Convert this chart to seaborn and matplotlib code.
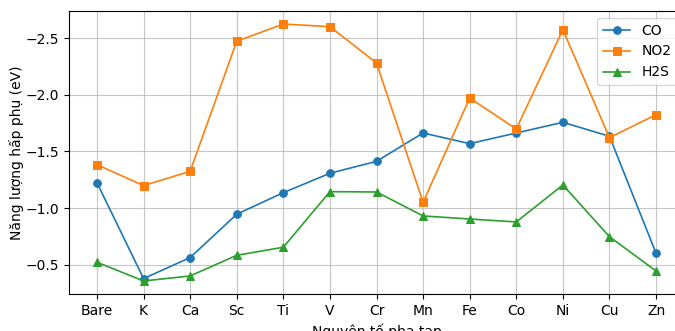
import matplotlib
matplotlib.use('Agg')
import matplotlib.pyplot as plt
import seaborn as sns
import pandas as pd

# dữ liệu
elements = ['Bare', 'K', 'Ca', 'Sc', 'Ti', 'V', 'Cr', 'Mn', 'Fe', 'Co', 'Ni', 'Cu', 'Zn']
co = [-1.225, -0.38, -0.565, -0.947, -1.137, -1.308, -1.413, -1.663, -1.569, -1.663, -1.757, -1.634, -0.603]
no2 = [-1.384, -1.199, -1.325, -2.471, -2.623, -2.600, -2.280, -1.052, -1.971, -1.698, -2.573, -1.622, -1.824]
h2s = [-0.524, -0.359, -0.403, -0.585, -0.656, -1.146, -1.143, -0.932, -0.905, -0.879, -1.205, -0.749, -0.447]

series = {'CO': (co, 'o'), 'NO2': (no2, 's'), 'H2S': (h2s, '^')}
colors = ['#1f77b4', '#ff7f0e', '#2ca02c']

plt.rcParams['font.family'] = ['DejaVu Sans']
fig = plt.figure(figsize=(6.75, 3.31), dpi=100)
ax = fig.add_axes([69 / 675, 1 - 294 / 331, (684 - 69) / 675, (294 - 11) / 331])

x = list(range(len(elements)))
for (name, (vals, mk)), c in zip(series.items(), colors):
    df = pd.DataFrame({'x': x, 'y': vals})
    sns.lineplot(data=df, x='x', y='y', marker=mk, color=c, label=name,
                 markersize=5.5, markeredgecolor=c, linewidth=1.2, ax=ax)

ax.set_xticks(x)
ax.set_xticklabels(elements)
ax.set_xlim(-0.6, len(elements) - 0.4)
ax.set_ylim(-0.244, -2.738)
ax.set_yticks([-2.5, -2.0, -1.5, -1.0, -0.5])
ax.grid(True, color='#b0b0b0', linewidth=0.8, alpha=0.7)
ax.set_xlabel('Nguyên tố pha tạp')
ax.set_ylabel('Năng lượng hấp phụ (eV)', labelpad=1)
ax.legend(loc='upper right')

plt.savefig('out.png', dpi=100)
plt.close()
